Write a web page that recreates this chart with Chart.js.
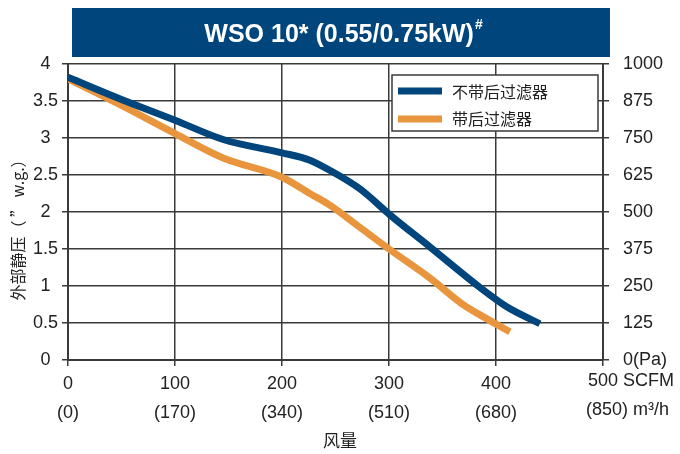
<!DOCTYPE html>
<html>
<head>
<meta charset="utf-8">
<script src="https://cdn.jsdelivr.net/npm/chart.js@4"></script>
<style>
html,body{margin:0;padding:0;background:#fff;}
#wrap{position:relative;width:680px;height:454px;}
</style>
</head>
<body>
<div id="wrap"><canvas id="c" width="680" height="454"></canvas></div>
<script>
// ---- data ----
const blueX = [0, 50, 100, 145, 200, 226, 245, 273, 301, 338, 385, 410, 441];
const blueY = [3.82, 3.52, 3.24, 2.98, 2.80, 2.70, 2.56, 2.31, 1.96, 1.53, 0.98, 0.72, 0.49];
const orangeX = [0, 50, 100, 145, 200, 226, 245, 273, 301, 338, 370, 385, 413];
const orangeY = [3.80, 3.44, 3.06, 2.73, 2.47, 2.25, 2.09, 1.79, 1.49, 1.11, 0.74, 0.61, 0.38];
const seriesNames = ['不带后过滤器', '带后过滤器'];
const xTicksSCFM = [0, 100, 200, 300, 400, 500];
const xTicksM3h = ['(0)', '(170)', '(340)', '(510)', '(680)', '(850)'];
const titleText = 'WSO 10* (0.55/0.75kW)';
const yTitle = '外部静压（ ” w.g.）';
const xTitle = '风量';

const BLUE = '#00457c', ORANGE = '#e8953e', GRID = '#3a3a3a', TXT = '#222';
const FONT = "'Liberation Sans', Arial, sans-serif";
const CJK = "'Noto Sans CJK SC', sans-serif";

const toPts = (xs, ys) => xs.map((x, i) => ({x, y: ys[i]}));

const extras = {
  id: 'extras',
  afterDraw(chart) {
    const ctx = chart.ctx, xs = chart.scales.x;
    ctx.save();
    // title bar
    ctx.fillStyle = BLUE;
    ctx.fillRect(72, 8, 538, 49);
    ctx.fillStyle = '#fff';
    ctx.font = "bold 25px " + FONT;
    ctx.textBaseline = 'middle';
    const w = ctx.measureText(titleText).width;
    ctx.font = "bold 14px " + FONT;
    const w2 = ctx.measureText('#').width;
    const sx = 343 - (w + w2) / 2;
    ctx.font = "bold 25px " + FONT;
    ctx.textAlign = 'left';
    ctx.fillText(titleText, sx, 35);
    ctx.font = "bold 14px " + FONT;
    ctx.fillText('#', sx + w + 1, 25);
    // legend
    ctx.fillStyle = '#fff';
    ctx.fillRect(392, 75, 206, 56);
    ctx.strokeStyle = GRID; ctx.lineWidth = 1.5;
    ctx.strokeRect(392, 75, 206, 56);
    ctx.lineWidth = 7;
    ctx.strokeStyle = BLUE;
    ctx.beginPath(); ctx.moveTo(398, 91); ctx.lineTo(442, 91); ctx.stroke();
    ctx.strokeStyle = ORANGE;
    ctx.beginPath(); ctx.moveTo(398, 119); ctx.lineTo(442, 119); ctx.stroke();
    ctx.fillStyle = TXT;
    ctx.font = "16px " + CJK;
    ctx.textAlign = 'left'; ctx.textBaseline = 'middle';
    ctx.fillText(seriesNames[0], 452, 92);
    ctx.fillText(seriesNames[1], 452, 119);
    // last x label
    ctx.font = "18px " + FONT;
    ctx.fillStyle = TXT;
    const px = xs.getPixelForValue(500);
    ctx.textAlign = 'left';
    const w500 = ctx.measureText('500').width;
    ctx.fillText('500 SCFM', px - w500 / 2, 381);
    ctx.font = "18px " + FONT;
    ctx.fillText(xTicksM3h[5] + ' m³/h', 586, 410);
    // y title
    ctx.save();
    ctx.translate(18, 226);
    ctx.rotate(-Math.PI / 2);
    ctx.textAlign = 'center'; ctx.textBaseline = 'middle';
    ctx.font = "16px " + CJK;
    ctx.fillText(yTitle, 0, 0);
    ctx.restore();
    // x title
    ctx.font = "17px " + CJK;
    ctx.textAlign = 'center'; ctx.textBaseline = 'middle';
    ctx.fillText(xTitle, 340, 441);
    ctx.restore();
  }
};

new Chart(document.getElementById('c'), {
  type: 'line',
  data: {
    datasets: [
      {label: seriesNames[0], data: toPts(blueX, blueY), borderColor: BLUE, borderWidth: 7, pointRadius: 0, cubicInterpolationMode: 'monotone', fill: false, yAxisID: 'y'},
      {label: seriesNames[1], data: toPts(orangeX, orangeY), borderColor: ORANGE, borderWidth: 7, pointRadius: 0, cubicInterpolationMode: 'monotone', fill: false, yAxisID: 'y', order: 1}
    ]
  },
  options: {
    responsive: false,
    animation: false,
    layout: {padding: {top: 64, left: 0, right: 0, bottom: 0}},
    plugins: {legend: {display: false}, tooltip: {enabled: false}, title: {display: false}},
    scales: {
      x: {
        type: 'linear', min: 0, max: 500,
        afterFit: s => { s.height = 94; },
        afterBuildTicks: s => { s.ticks = xTicksSCFM.map(v => ({value: v})); },
        border: {color: GRID, width: 2},
        grid: {color: GRID, lineWidth: 1.5, tickLength: 6},
        ticks: {
          color: TXT, font: {family: FONT, size: 18, lineHeight: 1.6}, padding: 4, maxRotation: 0,
          callback: (v) => { const i = xTicksSCFM.indexOf(v); return v === 500 ? '' : [String(v), xTicksM3h[i]]; }
        }
      },
      y: {
        type: 'linear', position: 'left', min: 0, max: 4,
        afterFit: s => { s.width = 68; },
        border: {color: GRID, width: 2},
        grid: {color: GRID, lineWidth: 1.5, tickLength: 6},
        ticks: {stepSize: 0.5, color: TXT, font: {family: FONT, size: 18}, padding: 4, crossAlign: 'center', callback: v => String(v)}
      },
      y2: {
        type: 'linear', position: 'right', min: 0, max: 1000,
        afterFit: s => { s.width = 77; },
        border: {color: GRID, width: 2},
        grid: {drawOnChartArea: false, color: GRID, lineWidth: 1.5, tickLength: 6},
        ticks: {stepSize: 125, color: TXT, font: {family: FONT, size: 18}, padding: 14, callback: v => v === 0 ? '0(Pa)' : String(v)}
      }
    }
  },
  plugins: [extras]
});
</script>
</body>
</html>
